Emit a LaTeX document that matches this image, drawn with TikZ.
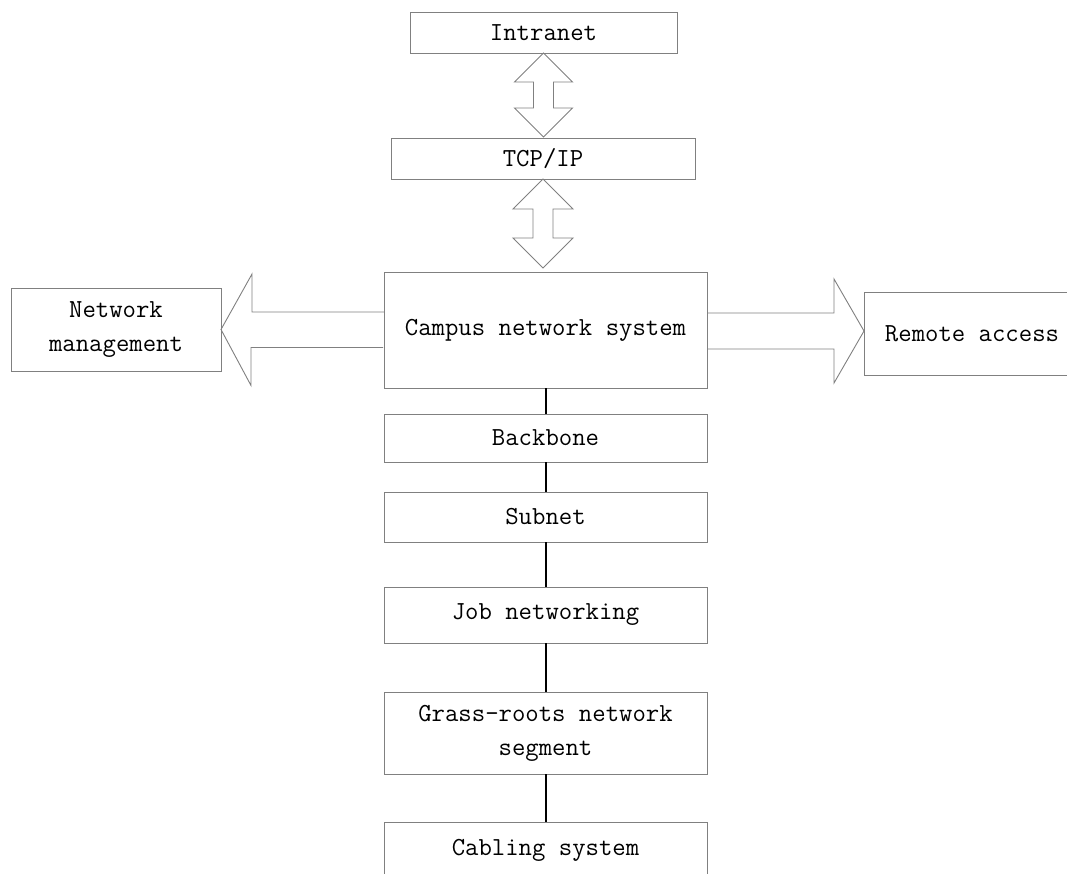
\documentclass[tikz,border=0pt]{standalone}
\usepackage{tikz}
\usetikzlibrary{positioning}
\colorlet{frame}{black!50}

\begin{document}
\begin{tikzpicture}[-,x=1pt,y=-1pt]
\tikzstyle{block}=[rectangle,draw=frame,line width=0.9pt,inner sep=0pt,outer sep=0pt,align=center,font=\ttfamily\fontsize{26}{34}\selectfont]
\tikzstyle{fat}=[draw=frame,line width=0.9pt,line join=miter]
\tikzstyle{link}=[draw=black,line width=2pt]

\useasboundingbox (0,0) rectangle (1067,873);
\clip (0,0) rectangle (1067,873);

\node [block] (intra) at(543.5,32.5)[minimum width=267pt,minimum height=41pt] {Intranet};
\node [block] (tcp) at(543,158.5)[minimum width=304pt,minimum height=41pt] {TCP/IP};
\node [block] (campus) at(545.5,330)[minimum width=323pt,minimum height=116pt] {Campus network system};
\node [block] (netm) at(116,329.5)[minimum width=210pt,minimum height=83pt] {Network\\management};
\node [block] (remote) at(972,333.5)[minimum width=216pt,minimum height=83pt] {Remote access};
\node [block] (backbone) at(545.5,438)[minimum width=323pt,minimum height=48pt] {Backbone};
\node [block] (subnet) at(545.5,517)[minimum width=323pt,minimum height=50pt] {Subnet};
\node [block] (job) at(545.5,615)[minimum width=323pt,minimum height=56pt] {Job networking};
\node [block] (grass) at(545.5,733)[minimum width=323pt,minimum height=82pt] {Grass-roots network\\segment};
\node [block] (cabling) at(545.5,850)[minimum width=323pt,minimum height=56pt] {Cabling system};

% hollow double arrows
\draw[fat] (intra.south) -- ++(29,29) -- ++(-19,0) -- ++(0,26) -- ++(19,0) -- ++(-29,29)
  -- ++(-29,-29) -- ++(19,0) -- ++(0,-26) -- ++(-19,0) -- cycle;
\draw[fat] (tcp.south) -- ++(30,30) -- ++(-20,0) -- ++(0,29) -- ++(20,0) -- ++(-30,30)
  -- ++(-30,-30) -- ++(20,0) -- ++(0,-29) -- ++(-20,0) -- cycle;

% hollow side arrows
\draw[fat] (campus.west) ++(0,-18) -- ++(-132,0) -- ++(0,-38) -- (netm.east)
  -- ++(30,56) -- ++(0,-38) -- ++(132,0);
\draw[fat] (campus.east) ++(0,-17) -- ++(127,0) -- ++(0,-34) -- ++(30,52)
  -- ++(-30,52) -- ++(0,-34) -- ++(-127,0);

\path (campus) edge[link] (backbone);
\path (backbone) edge[link] (subnet);
\path (subnet) edge[link] (job);
\path (job) edge[link] (grass);
\path (grass) edge[link] (cabling);
\end{tikzpicture}
\end{document}
